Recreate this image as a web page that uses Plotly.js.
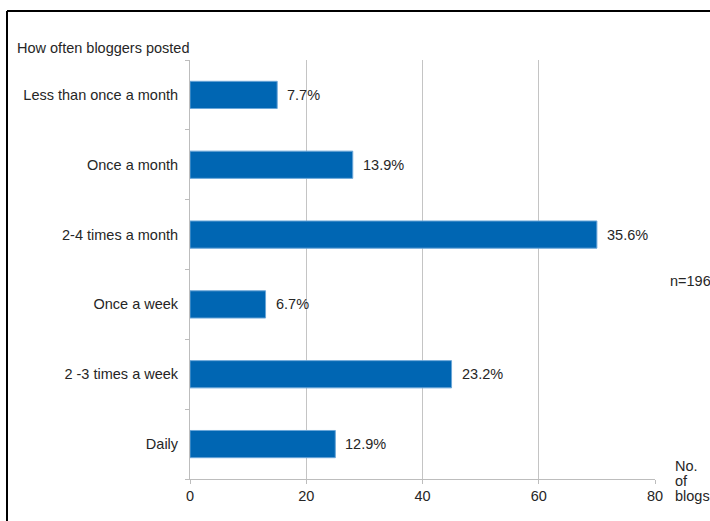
<!DOCTYPE html>
<html>
<head>
<meta charset="utf-8">
<script src="https://cdn.plot.ly/plotly-3.0.1.min.js"></script>
<style>html,body{margin:0;padding:0;background:#fff;}#chart{width:710px;height:521px;}</style>
</head>
<body>
<div id="chart"></div>
<script>
const categories = ["Less than once a month", "Once a month", "2-4 times a month", "Once a week", "2 -3 times a week", "Daily"];
const blogCounts = [15, 28, 70, 13, 45, 25];
const percentLabels = ["7.7%", "13.9%", "35.6%", "6.7%", "23.2%", "12.9%"];
const xTicks = [0, 20, 40, 60, 80];

const FONT = "Liberation Sans, Arial, sans-serif";
const FS = 14.5;
const TXT = "#262626";

const ML = 190, MR = 55, MT = 60, MB = 42, W = 710, H = 521;
const PW = W - ML - MR, PH = H - MT - MB;
const px = v => (v - ML) / PW;
const py = v => (H - MB - v) / PH;

const trace = {
  type: "bar",
  orientation: "h",
  y: categories,
  x: blogCounts,
  marker: {color: "#0066b3", line: {color: "#6aa6d8", width: 1}},
  hoverinfo: "skip"
};

const valueLabels = categories.map((c, i) => ({
  text: percentLabels[i],
  xref: "x", yref: "y",
  x: blogCounts[i], y: c,
  xanchor: "left", yanchor: "middle",
  xshift: 8,
  showarrow: false,
  font: {family: FONT, size: FS, color: TXT}
}));

const layout = {
  width: W, height: H,
  margin: {l: ML, r: MR, t: MT, b: MB, pad: 0},
  paper_bgcolor: "#fff", plot_bgcolor: "#fff",
  font: {family: FONT, size: FS, color: TXT},
  showlegend: false,
  bargap: 0.61,
  title: {
    text: "How often bloggers posted",
    xref: "container", yref: "container",
    x: 17 / W, xanchor: "left",
    y: 1 - 48 / H, yanchor: "middle",
    font: {family: FONT, size: FS, color: TXT}
  },
  xaxis: {
    range: [0, 80],
    tickvals: xTicks,
    ticktext: xTicks.map(String),
    showgrid: true, gridcolor: "#c4c4c4", gridwidth: 1,
    zeroline: false,
    showline: true, linecolor: "#bdbdbd", linewidth: 1,
    ticks: "outside", ticklen: 4, tickcolor: "#bdbdbd",
    tickfont: {family: FONT, size: FS, color: TXT},
    fixedrange: true
  },
  yaxis: {
    type: "category",
    categoryorder: "array",
    categoryarray: categories.slice().reverse(),
    showgrid: false, zeroline: false,
    showline: true, linecolor: "#bdbdbd", linewidth: 1,
    ticks: "outside", ticklen: 4, tickcolor: "#bdbdbd",
    tickson: "boundaries",
    ticklabelstandoff: 8,
    tickfont: {family: FONT, size: FS, color: TXT},
    fixedrange: true
  },
  shapes: [
    {type: "line", xref: "paper", yref: "paper", x0: px(7), x1: px(7), y0: py(11), y1: py(530), line: {color: "#000", width: 2}},
    {type: "line", xref: "paper", yref: "paper", x0: px(7), x1: px(720), y0: py(11), y1: py(11), line: {color: "#000", width: 2}}
  ],
  annotations: valueLabels.concat([
    {text: "n=196", xref: "paper", yref: "paper", x: px(668), y: py(281), xanchor: "left", yanchor: "middle", showarrow: false, font: {family: FONT, size: FS, color: TXT}},
    {text: "No.", xref: "paper", yref: "paper", x: px(673), y: py(466), xanchor: "left", yanchor: "middle", showarrow: false, font: {family: FONT, size: FS, color: TXT}},
    {text: "of", xref: "paper", yref: "paper", x: px(673), y: py(481), xanchor: "left", yanchor: "middle", showarrow: false, font: {family: FONT, size: FS, color: TXT}},
    {text: "blogs", xref: "paper", yref: "paper", x: px(673), y: py(496), xanchor: "left", yanchor: "middle", showarrow: false, font: {family: FONT, size: FS, color: TXT}}
  ])
};

Plotly.newPlot("chart", [trace], layout, {displayModeBar: false, staticPlot: true});
</script>
</body>
</html>
